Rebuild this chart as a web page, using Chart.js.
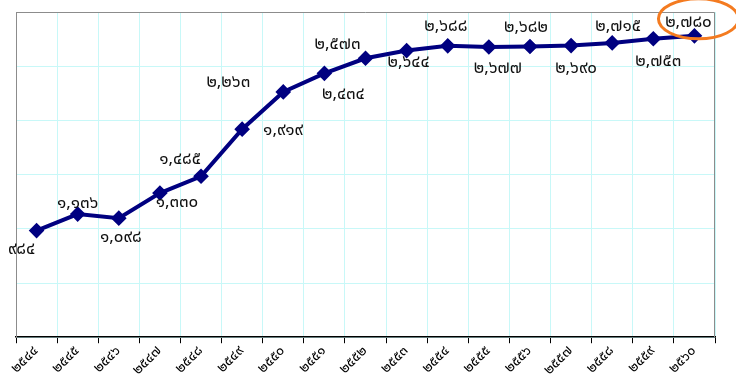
<!DOCTYPE html>
<html>
<head>
<meta charset="utf-8">
<script src="https://cdn.jsdelivr.net/npm/chart.js@4/dist/chart.umd.min.js"></script>
<style>
  html, body { margin: 0; padding: 0; background: #fff; }
  #wrap { width: 736px; height: 381px; }
</style>
</head>
<body>
<div id="wrap"><canvas id="chart"></canvas></div>
<script>
// Buddhist-era years on the x axis
const years = [2544, 2545, 2546, 2547, 2548, 2549, 2550, 2551, 2552,
               2553, 2554, 2555, 2556, 2557, 2558, 2559, 2560];

// yearly totals
const counts = [984, 1136, 1098, 1330, 1485, 1919, 2263, 2434, 2573,
                2644, 2688, 2677, 2682, 2690, 2715, 2753, 2780];

// value label placement relative to each point [dx, dy]
const labelOffsets = [
  [-15, 20], [0, -10], [2, 20], [17, 11], [-21, -16], [41, 2], [-55, -8],
  [19, 22], [-28, -13], [2, 13], [-2, -18], [9, 23], [-4, -18], [5, 24],
  [6, -15], [5, 24], [-6, -12]
];

const FONT = '"Noto Sans Thai", "Tahoma", "DejaVu Sans", sans-serif';

// arabic digits -> thai digits
function thaiDigits(str) {
  return String(str).replace(/[0-9]/g, d => String.fromCharCode(0x0E50 + Number(d)));
}
function thaiNumber(n) {
  return thaiDigits(n.toString().replace(/\B(?=(\d{3})+(?!\d))/g, ","));
}

const valueLabels = {
  id: "valueLabels",
  afterDatasetsDraw(chart) {
    const ctx = chart.ctx;
    const meta = chart.getDatasetMeta(0);
    ctx.save();
    ctx.font = "17px " + FONT;
    ctx.fillStyle = "#111";
    ctx.textAlign = "center";
    ctx.textBaseline = "middle";
    meta.data.forEach((pt, i) => {
      const [dx, dy] = labelOffsets[i];
      ctx.fillText(thaiNumber(counts[i]), pt.x + dx, pt.y + dy);
    });
    ctx.restore();
  }
};

// grey frame around the plot area, then orange ring around the latest value
const frameAndRing = {
  id: "frameAndRing",
  beforeDatasetsDraw(chart) {
    const { ctx, chartArea: a } = chart;
    ctx.save();
    ctx.strokeStyle = "#8c8c8c";
    ctx.lineWidth = 1;
    ctx.beginPath();
    ctx.moveTo(a.left + 0.5, a.bottom);
    ctx.lineTo(a.left + 0.5, a.top + 0.5);
    ctx.lineTo(a.right - 0.5, a.top + 0.5);
    ctx.lineTo(a.right - 0.5, a.bottom);
    ctx.stroke();
    ctx.restore();
  },
  afterDraw(chart) {
    const meta = chart.getDatasetMeta(0);
    const last = meta.data[meta.data.length - 1];
    const ctx = chart.ctx;
    ctx.save();
    ctx.strokeStyle = "#f47b20";
    ctx.lineWidth = 3;
    ctx.beginPath();
    ctx.ellipse(last.x + 4, last.y - 17, 40, 20, 0, 0, Math.PI * 2);
    ctx.stroke();
    ctx.restore();
  }
};

new Chart(document.getElementById("chart"), {
  type: "line",
  data: {
    labels: years.map(thaiDigits),
    datasets: [{
      data: counts,
      borderColor: "#000080",
      backgroundColor: "#000080",
      borderWidth: 4,
      tension: 0,
      pointStyle: "rectRot",
      pointRadius: 5,
      pointHoverRadius: 5
    }]
  },
  options: {
    responsive: true,
    maintainAspectRatio: false,
    animation: false,
    layout: { padding: { left: 16, top: 12, right: 21, bottom: 2 } },
    plugins: {
      legend: { display: false },
      tooltip: { enabled: false }
    },
    scales: {
      x: {
        offset: true,
        grid: {
          offset: true,
          color: "#c8f8f8",
          tickColor: "#000",
          tickLength: 6,
          drawOnChartArea: true
        },
        border: { display: true, color: "#000", width: 1.5 },
        ticks: {
          minRotation: 45,
          maxRotation: 45,
          color: "#000",
          padding: 0,
          font: { family: FONT, size: 14 }
        }
      },
      y: {
        min: 0,
        max: 3000,
        ticks: { stepSize: 500, display: false },
        grid: { color: "#c8f8f8", drawTicks: false },
        border: { display: true, color: "#8c8c8c" }
      }
    }
  },
  plugins: [valueLabels, frameAndRing]
});
</script>
</body>
</html>
